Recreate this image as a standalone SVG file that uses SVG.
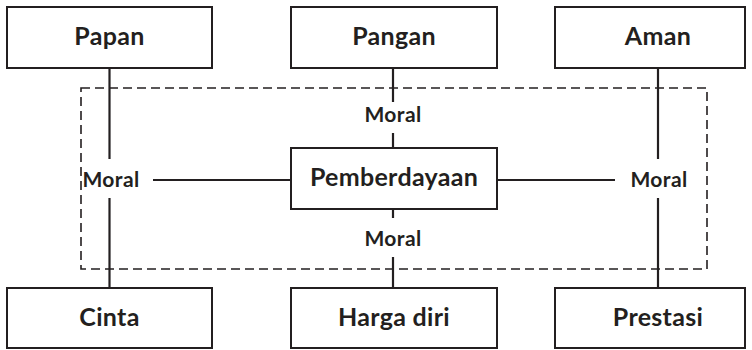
<svg xmlns="http://www.w3.org/2000/svg" width="752" height="350" viewBox="0 0 752 350">
<style>
.box{fill:#fff;stroke:#231f20;stroke-width:2}
.t{font-family:Lato,"Open Sans","Liberation Sans",sans-serif;font-weight:bold;font-size:25px;letter-spacing:0.3px;fill:#231f20;text-anchor:middle}
.m{font-family:Lato,"Open Sans","Liberation Sans",sans-serif;font-weight:bold;font-size:21px;letter-spacing:0.4px;fill:#231f20;text-anchor:middle}
.ln{stroke:#231f20;stroke-width:2.2;fill:none}
.dash{stroke:#231f20;stroke-width:1.6;fill:none;stroke-dasharray:9,5}
</style>
<rect class="dash" x="81" y="88" width="626" height="181"/>
<g id="connectors">
<line class="ln" x1="109.5" y1="68" x2="109.5" y2="159"/>
<line class="ln" x1="109.5" y1="198" x2="109.5" y2="288"/>
<line class="ln" x1="658" y1="68" x2="658" y2="159"/>
<line class="ln" x1="658" y1="198" x2="658" y2="288"/>
<line class="ln" x1="393" y1="68" x2="393" y2="102"/>
<line class="ln" x1="393" y1="133" x2="393" y2="148"/>
<line class="ln" x1="393" y1="209" x2="393" y2="218"/>
<line class="ln" x1="393" y1="257" x2="393" y2="288"/>
<line class="ln" x1="153" y1="180" x2="291" y2="180"/>
<line class="ln" x1="497" y1="180" x2="615" y2="180"/>
<text class="m" x="393" y="122">Moral</text>
<text class="m" x="393" y="246">Moral</text>
<text class="m" x="111" y="187">Moral</text>
<text class="m" x="659" y="187">Moral</text>
</g>
<g id="papan"><rect class="box" x="7" y="7" width="205" height="61"/><text class="t" x="109.5" y="45">Papan</text></g>
<g id="pangan"><rect class="box" x="291" y="7" width="206" height="61"/><text class="t" x="394" y="45">Pangan</text></g>
<g id="aman"><rect class="box" x="555" y="7" width="190" height="61"/><text class="t" x="658" y="45">Aman</text></g>
<g id="pemberdayaan"><rect class="box" x="291" y="148" width="206" height="61"/><text class="t" x="394" y="186">Pemberdayaan</text></g>
<g id="cinta"><rect class="box" x="7" y="288" width="205" height="60"/><text class="t" x="109.5" y="326">Cinta</text></g>
<g id="harga"><rect class="box" x="291" y="288" width="206" height="60"/><text class="t" x="394" y="326">Harga diri</text></g>
<g id="prestasi"><rect class="box" x="555" y="288" width="190" height="60"/><text class="t" x="658" y="326">Prestasi</text></g>
</svg>
